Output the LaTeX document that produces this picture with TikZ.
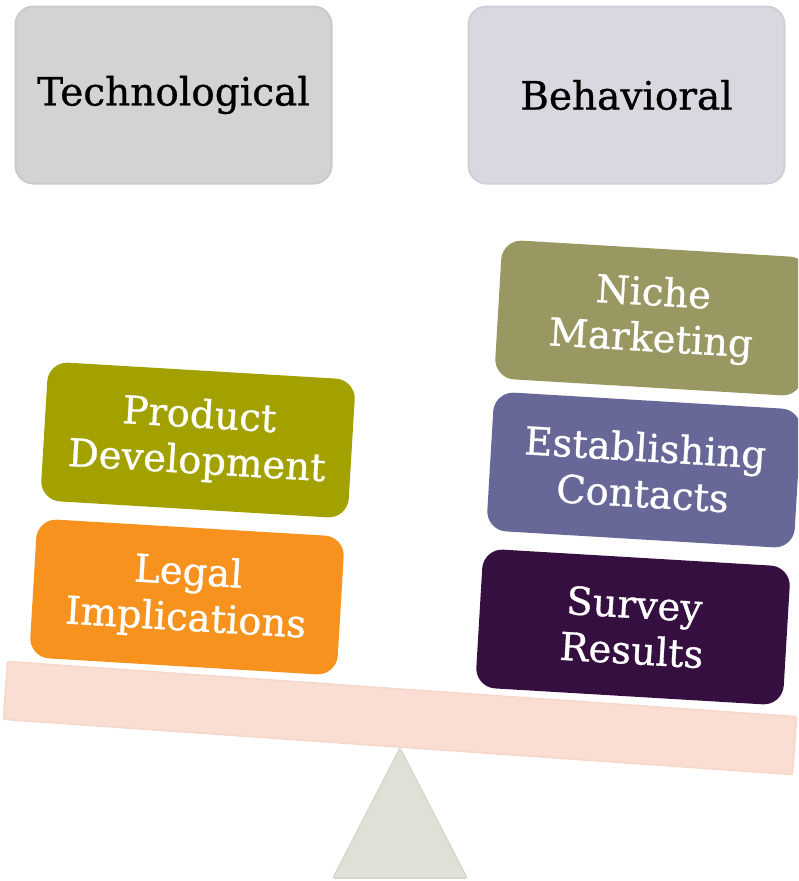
\documentclass[tikz,border=0pt]{standalone}
\usepackage{fontspec}
\setmainfont{DejaVu Serif}[FakeBold=0.8]
\definecolor{techfill}{HTML}{D3D3D6}
\definecolor{techline}{HTML}{CACACD}
\definecolor{behfill}{HTML}{D8D8E1}
\definecolor{behline}{HTML}{CFCFD9}
\definecolor{pdcol}{HTML}{A3A100}
\definecolor{legcol}{HTML}{F7921E}
\definecolor{nichecol}{HTML}{9A9862}
\definecolor{contcol}{HTML}{676798}
\definecolor{survcol}{HTML}{360F41}
\definecolor{beamfill}{HTML}{FBDED3}
\definecolor{beamline}{HTML}{F8D6C9}
\definecolor{trifill}{HTML}{DFE0D6}
\definecolor{triline}{HTML}{D7D9CC}
\tikzset{
  header/.style={draw, line width=2pt, rounded corners=18pt, minimum width=316pt, minimum height=177pt, font=\fontsize{39}{46}\selectfont, text=black},
  weight/.style={rounded corners=20pt, minimum width=308pt, minimum height=139pt, align=center, text=white, rotate=-3.4, font=\fontsize{38.5}{46}\selectfont, inner sep=0pt}
}
\begin{document}
\begin{tikzpicture}[x=1pt,y=-1pt]
\useasboundingbox (0,0) rectangle (798,881);
\clip (0,0) rectangle (798,881);
\node[header, fill=techfill, draw=techline] (tech) at (173.5,95) {Technological};
\node[header, fill=behfill, draw=behline] (beh) at (626.5,95) {Behavioral};
\path[fill=trifill, draw=triline, line width=1.5pt, rounded corners=2pt] (400,748) -- (467,878) -- (333,878) -- cycle;
\node[fill=beamfill, draw=beamline, line width=1.5pt, rotate=-4, minimum width=791pt, minimum height=58pt, rounded corners=2pt, inner sep=0pt] (beam) at (400,718) {};
\node[weight, fill=pdcol] (pd) at (198,440) {Product\\Development};
\node[weight, fill=legcol] (legal) at (187,597) {Legal\\Implications};
\node[weight, fill=nichecol] (niche) at (652,318) {Niche\\Marketing};
\node[weight, fill=contcol] (cont) at (644,470) {Establishing\\Contacts};
\node[weight, fill=survcol] (surv) at (633,627) {Survey\\Results};
\end{tikzpicture}
\end{document}
